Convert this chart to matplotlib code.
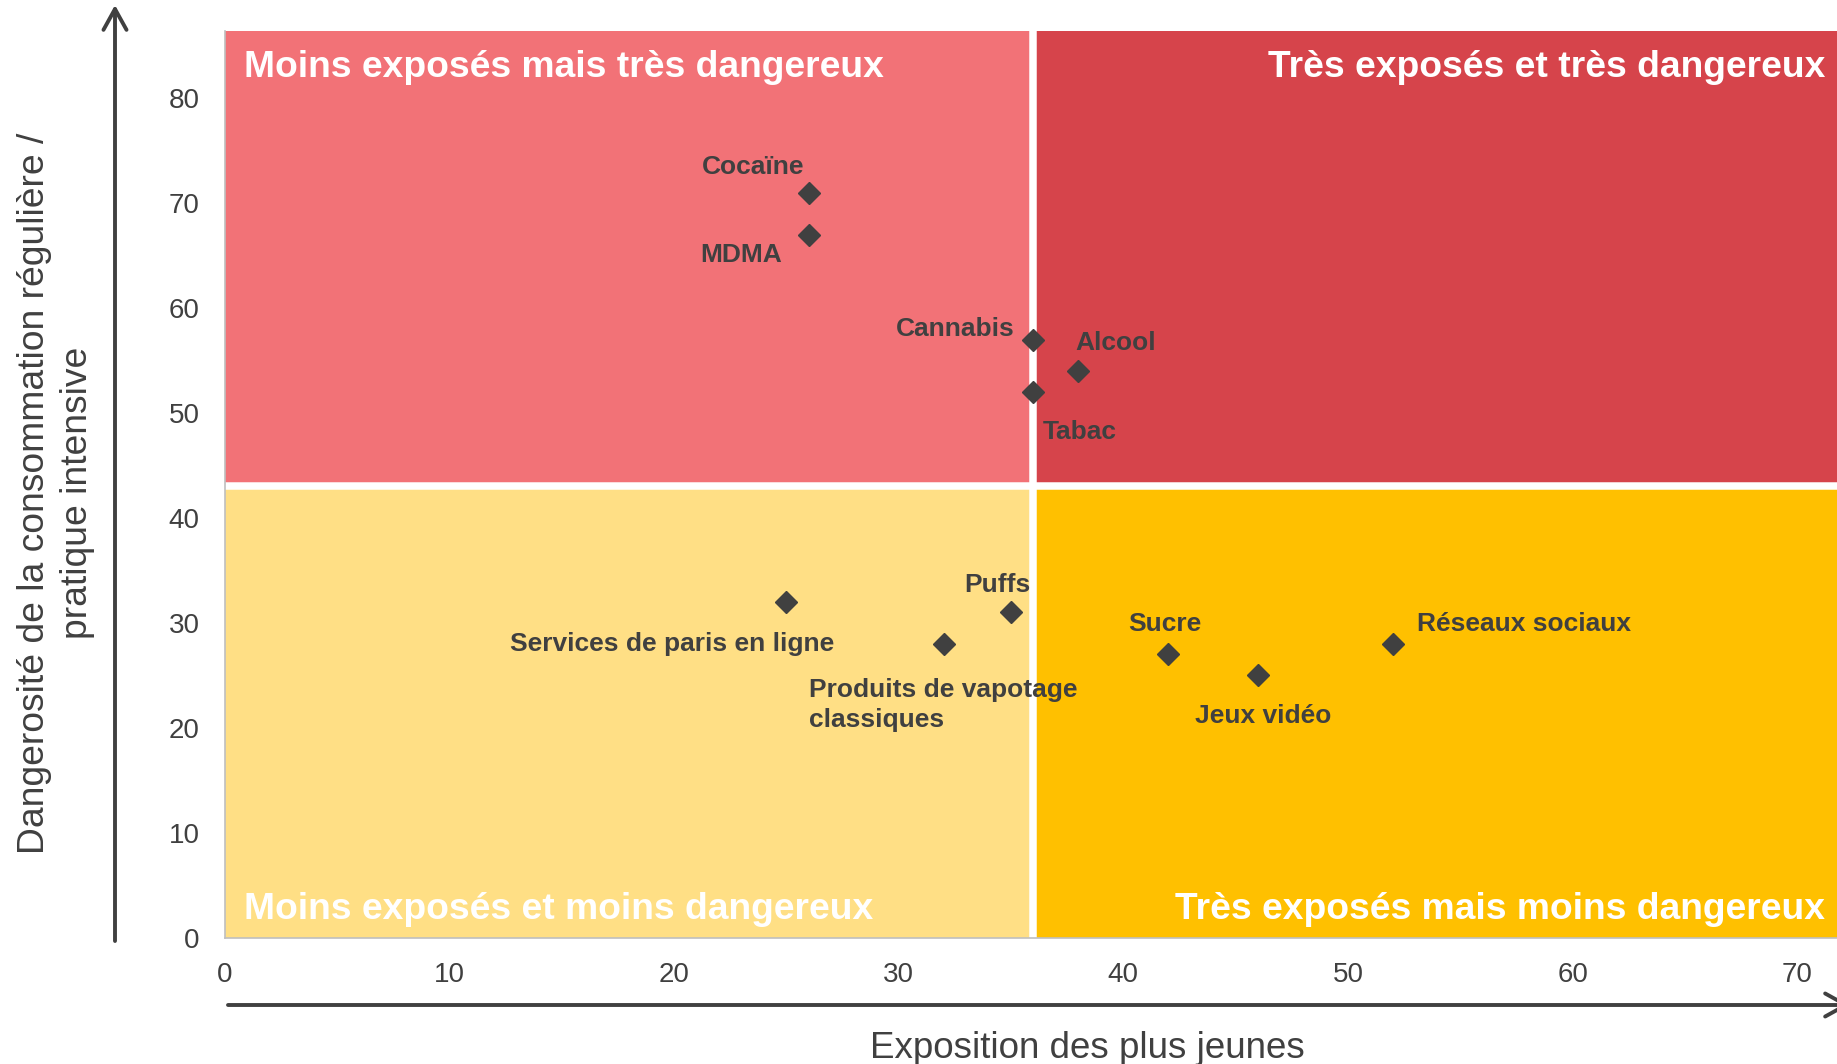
import matplotlib
matplotlib.use("Agg")
import matplotlib.pyplot as plt
from matplotlib.patches import Rectangle, FancyArrowPatch

plt.rcParams['font.family'] = ['Liberation Sans', 'DejaVu Sans']

# --- data -------------------------------------------------------------
products = ["Cocaïne", "MDMA", "Cannabis", "Alcool", "Tabac",
            "Services de paris en ligne", "Produits de vapotage\nclassiques",
            "Puffs", "Sucre", "Jeux vidéo", "Réseaux sociaux"]
exposition = [26, 26, 36, 38, 36, 25, 32, 35, 42, 46, 52]
dangerosite = [71, 67, 57, 54, 52, 32, 28, 31, 27, 25, 28]

x_ticks = [0, 10, 20, 30, 40, 50, 60, 70]
y_ticks = [0, 10, 20, 30, 40, 50, 60, 70, 80]

x_split = 36   # exposure threshold
y_split = 43   # danger threshold

quadrant_titles = ["Moins exposés mais très dangereux",
                   "Très exposés et très dangereux",
                   "Moins exposés et moins dangereux",
                   "Très exposés mais moins dangereux"]

# label placement (offset in points, horizontal alignment)
label_offsets = [(-40, 18.5, "center"), (-49, -14.5, "center"), (-56, 7.5, "center"),
                 (27, 20.5, "center"), (33, -29, "center"), (-82, -30.5, "center"),
                 (-97, -44, "left"), (-10, 19.5, "center"), (-2.5, 21.5, "center"),
                 (3.5, -29, "center"), (17, 14.5, "left")]

# --- styling ------------------------------------------------------------
TXT = "#404040"
C_TL, C_TR = "#F27277", "#D6444B"
C_BL, C_BR = "#FFDF85", "#FFC000"

W, H = 1837, 1064
fig = plt.figure(figsize=(W / 100, H / 100), dpi=100)
ax = fig.add_axes([224.5 / W, 1 - 937.7 / H, 1 - 224.5 / W, (937.7 - 31) / H])

xmax, ymax = 71.76, 86.4
ax.set_xlim(0, xmax)
ax.set_ylim(0, ymax)

# quadrant backgrounds
ax.add_patch(Rectangle((0, y_split), x_split, ymax - y_split, color=C_TL, lw=0, zorder=0))
ax.add_patch(Rectangle((x_split, y_split), xmax - x_split, ymax - y_split, color=C_TR, lw=0, zorder=0))
ax.add_patch(Rectangle((0, 0), x_split, y_split, color=C_BL, lw=0, zorder=0))
ax.add_patch(Rectangle((x_split, 0), xmax - x_split, y_split, color=C_BR, lw=0, zorder=0))
ax.axvline(x_split, color="white", lw=5.4, zorder=1)
ax.axhline(y_split, color="white", lw=5.4, zorder=1)

# quadrant titles
qkw = dict(color="white", fontsize=26.8, fontweight="bold", zorder=3)
ax.text(0.85, 82.0, quadrant_titles[0], ha="left", va="baseline", **qkw)
ax.text(71.24, 82.0, quadrant_titles[1], ha="right", va="baseline", **qkw)
ax.text(0.85, 1.75, quadrant_titles[2], ha="left", va="baseline", **qkw)
ax.text(71.24, 1.75, quadrant_titles[3], ha="right", va="baseline", **qkw)

# points
ax.plot(exposition, dangerosite, linestyle="none", marker="D", markersize=11.5,
        color=TXT, zorder=4)

for name, x, y, (dx, dy, ha) in zip(products, exposition, dangerosite, label_offsets):
    ax.annotate(name, (x, y), xytext=(dx, dy), textcoords="offset points",
                ha=ha, va="center", fontsize=19, fontweight="bold", color=TXT,
                linespacing=1.3, zorder=5)

# axes
ax.set_xticks(x_ticks)
ax.set_yticks(y_ticks)
ax.tick_params(length=0, labelsize=20, labelcolor=TXT)
ax.tick_params(axis="x", pad=17.5)
ax.tick_params(axis="y", pad=18)
for side in ("top", "right"):
    ax.spines[side].set_visible(False)
for side in ("left", "bottom"):
    ax.spines[side].set_color("#BFBFBF")
    ax.spines[side].set_linewidth(1.2)
    ax.spines[side].set_zorder(2)

# axis arrows
akw = dict(arrowstyle="->,head_length=15,head_width=8.3", color=TXT, lw=2.8,
           shrinkA=0, shrinkB=0, transform=fig.transFigure, mutation_scale=1)
fig.patches.append(FancyArrowPatch((115 / W, 1 - 941 / H), (115 / W, 1 - 5 / H), **akw))
fig.patches.append(FancyArrowPatch((228 / W, 1 - 1005 / H), (1850 / W, 1 - 1005 / H), **akw))

# axis titles
fig.text(1087 / W, 1 - 1048 / H, "Exposition des plus jeunes", ha="center", va="center",
         fontsize=26.5, color=TXT)
fig.text(56 / W, 1 - 493 / H, "Dangerosité de la consommation régulière /\npratique intensive",
         ha="center", va="center", rotation=90, fontsize=26.8, color=TXT, linespacing=1.3,
         multialignment="center")

fig.savefig("out.png", dpi=100)
